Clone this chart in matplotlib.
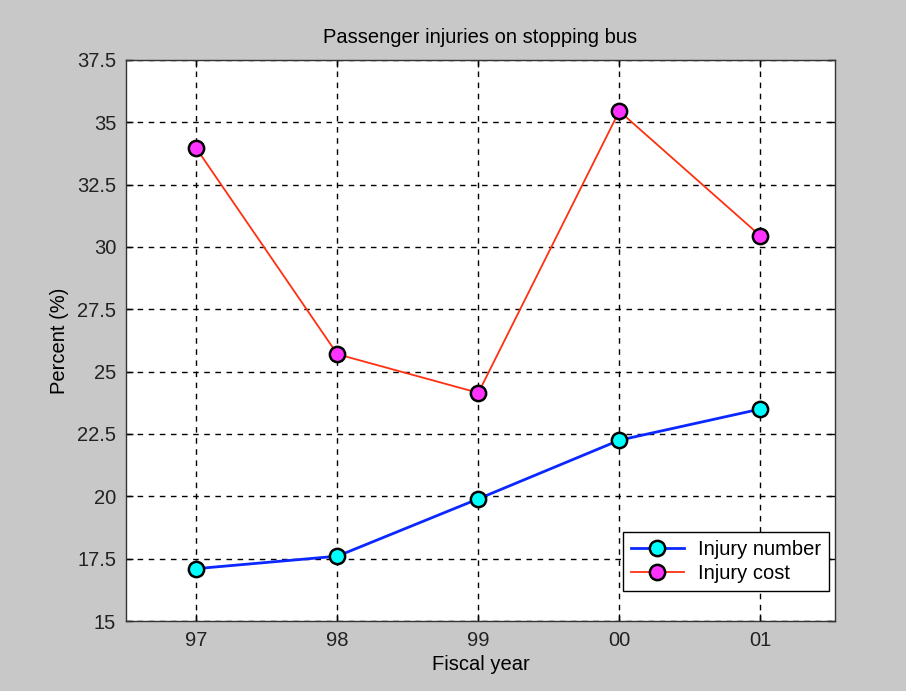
import matplotlib
matplotlib.use('Agg')
import matplotlib.pyplot as plt
import numpy as np

# values
years = ['97', '98', '99', '00', '01']
injury_number = [17.1, 17.6, 19.9, 22.25, 23.5]
injury_cost = [33.95, 25.7, 24.15, 35.45, 30.45]
y_ticks = [15, 17.5, 20, 22.5, 25, 27.5, 30, 32.5, 35, 37.5]
y_ticklabels = ['15', '17.5', '20', '22.5', '25', '27.5', '30', '32.5', '35', '37.5']

plt.rcParams.update({
    'font.family': ['Liberation Sans', 'DejaVu Sans'],
    'font.size': 14,
})

fig = plt.figure(figsize=(9.06, 6.91), dpi=100, facecolor='#C8C8C8')
ax = fig.add_axes([0.139, 0.1013, 0.7826, 0.8119])
ax.set_facecolor('white')

x = np.arange(len(years))
ax.plot(x, injury_number, color='#0A28FF', lw=2, marker='o', ms=11,
        mfc='#00FFFF', mec='black', mew=1.8, label='Injury number', zorder=3)
ax.plot(x, injury_cost, color='#FF3010', lw=1.3, marker='o', ms=11,
        mfc='#FF33FF', mec='black', mew=1.8, label='Injury cost', zorder=3)

ax.set_xlim(-0.5, 4.53)
ax.set_ylim(15, 37.5)
ax.set_xticks(x)
ax.set_xticklabels(years)
ax.set_yticks(y_ticks)
ax.set_yticklabels(y_ticklabels)
ax.tick_params(direction='in', top=True, right=True, length=5, width=1,
               labelsize=14.5, pad=7, labelcolor='#222222')
ax.grid(True, color='black', linestyle=(0, (4, 4)), lw=1)
for s in ax.spines.values():
    s.set_color('#333333')
    s.set_linewidth(1)

ax.set_title('Passenger injuries on stopping bus', fontsize=14.5, pad=12)
ax.set_xlabel('Fiscal year', fontsize=14.5, labelpad=4)
ax.set_ylabel('Percent (%)', fontsize=14.5, labelpad=6)

leg = ax.legend(loc='lower right', bbox_to_anchor=(0.9915, 0.0535), fancybox=False,
                framealpha=1, edgecolor='black', fontsize=14.5,
                handlelength=2.6, handletextpad=0.7, borderpad=0.4,
                labelspacing=0.25, borderaxespad=0)
leg.get_frame().set_linewidth(1)

plt.savefig('out.png', dpi=100, facecolor=fig.get_facecolor())
plt.close()
